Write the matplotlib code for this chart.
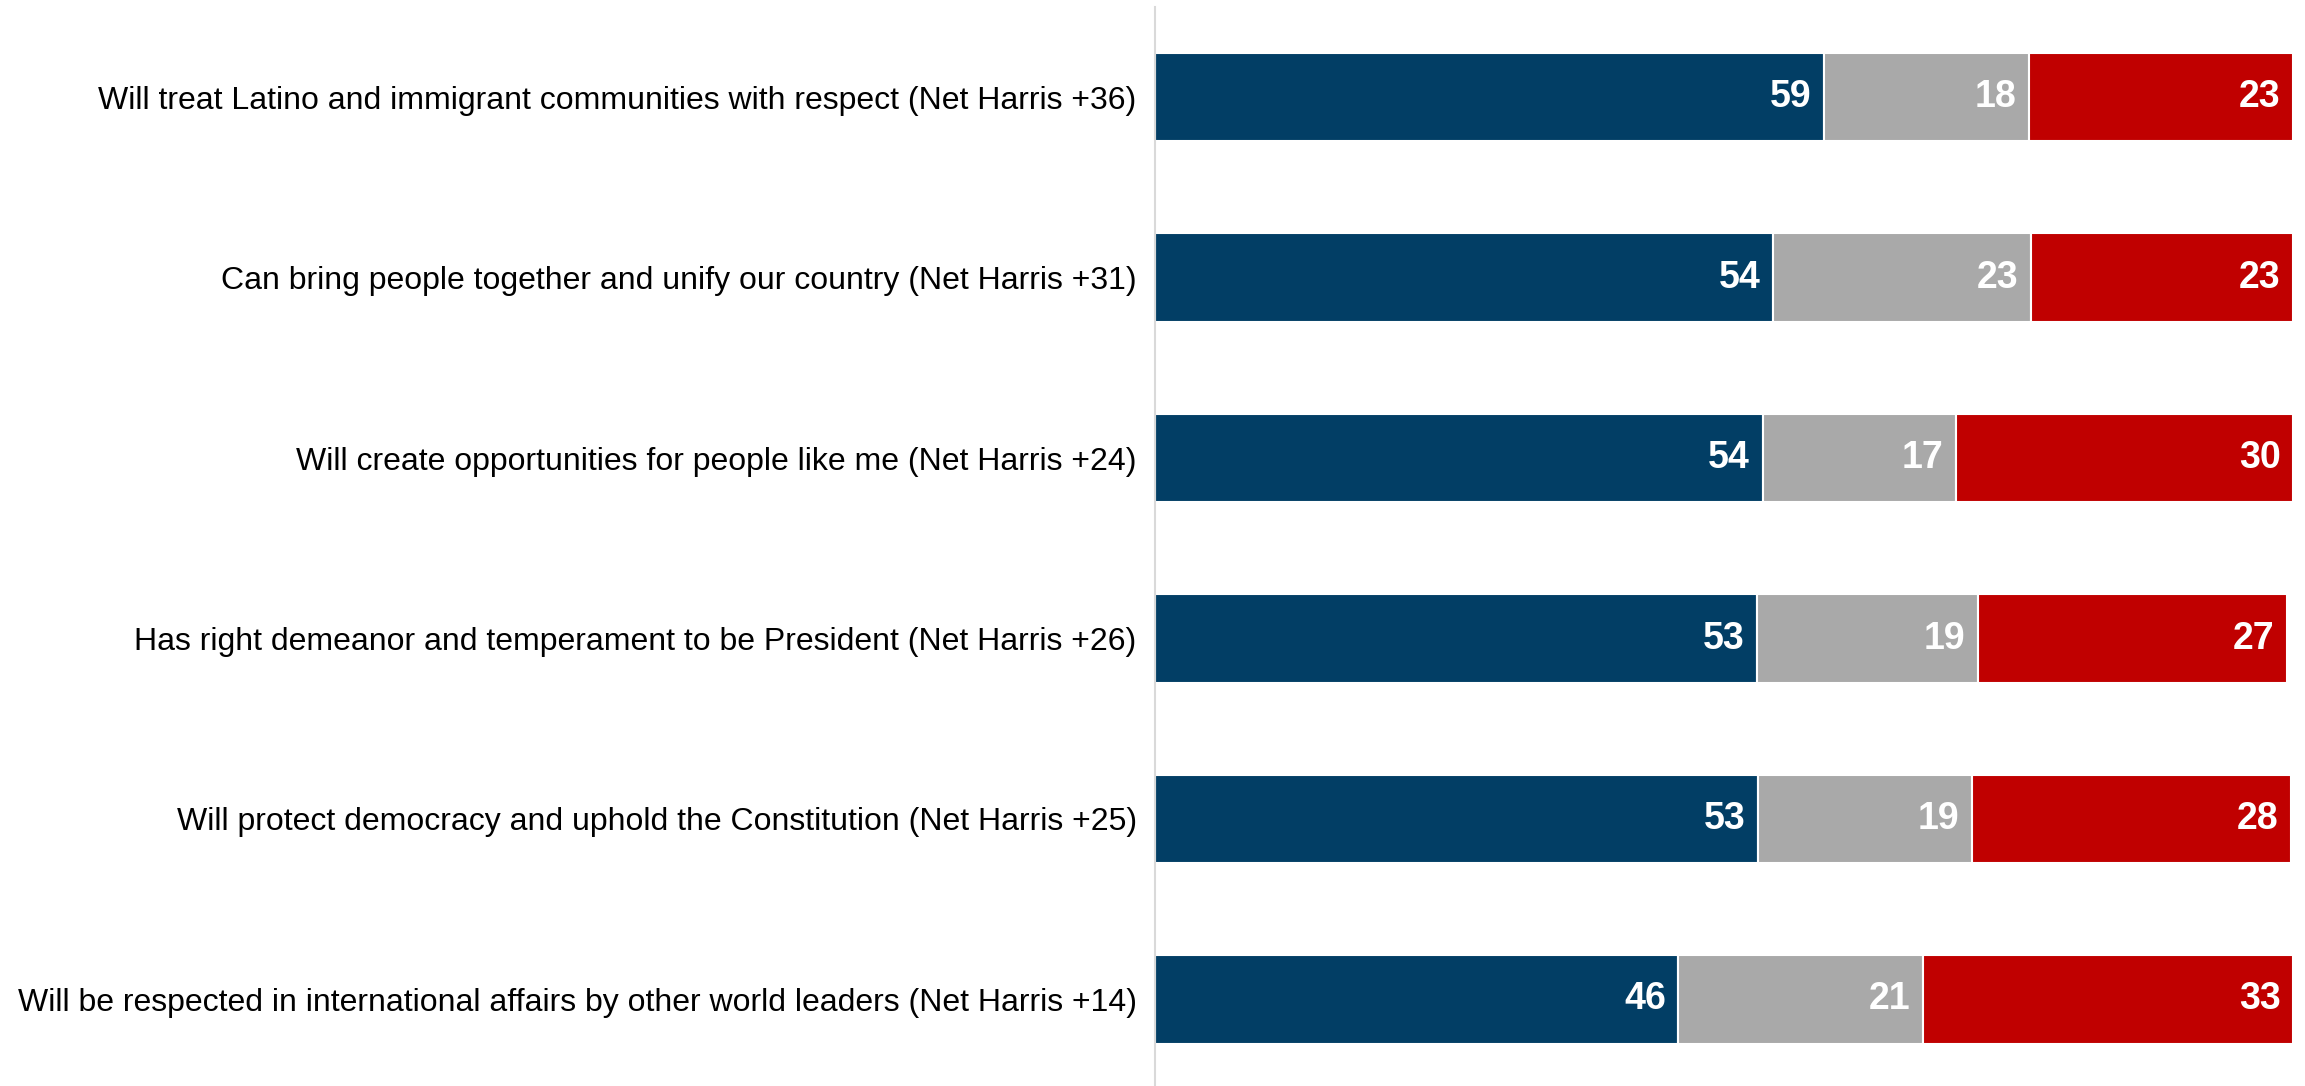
import matplotlib.pyplot as plt
import numpy as np

plt.rcParams['font.family'] = ['Liberation Sans', 'DejaVu Sans']

labels = [
    'Will treat Latino and immigrant communities with respect (Net Harris +36)',
    'Can bring people together and unify our country (Net Harris +31)',
    'Will create opportunities for people like me (Net Harris +24)',
    'Has right demeanor and temperament to be President (Net Harris +26)',
    'Will protect democracy and uphold the Constitution (Net Harris +25)',
    'Will be respected in international affairs by other world leaders (Net Harris +14)',
]
# rounded values printed on the bars
harris = [59, 54, 54, 53, 53, 46]
neither = [18, 23, 17, 19, 19, 21]
trump = [23, 23, 30, 27, 28, 33]
# unrounded bar lengths
harris_len = [58.8, 54.3, 53.4, 52.9, 53.0, 46.0]
neither_len = [18.0, 22.7, 17.0, 19.4, 18.8, 21.5]
trump_len = [23.2, 23.0, 29.6, 27.2, 28.0, 32.5]

colors = ['#023e65', '#a9a9a9', '#c00000']

fig = plt.figure(figsize=(23.05, 10.86), dpi=100)
ax = fig.add_axes([0.501, 0.0, 0.4938, 0.9936])

y = np.arange(len(labels))
left = np.zeros(len(labels))
for lens, vals, c in zip([harris_len, neither_len, trump_len], [harris, neither, trump], colors):
    lens = np.array(lens)
    ax.barh(y, lens, left=left, height=0.49, color=c, edgecolor='white', linewidth=1.5)
    for yi, l, w, v in zip(y, left, lens, vals):
        ax.text(l + w - 1.1, yi, str(v), ha='right', va='center',
                color='white', fontsize=27, fontweight='bold')
    left = left + lens

ax.set_xlim(0, 100)
ax.set_ylim(5.48, -0.5)
ax.set_yticks(y)
ax.set_yticklabels(labels, fontsize=23)
ax.tick_params(axis='y', length=0, pad=13)
ax.set_xticks([])
for s in ['top', 'right', 'bottom']:
    ax.spines[s].set_visible(False)
ax.spines['left'].set_color('#d9d9d9')
ax.spines['left'].set_linewidth(1.5)

fig.savefig('out.png', dpi=100)
